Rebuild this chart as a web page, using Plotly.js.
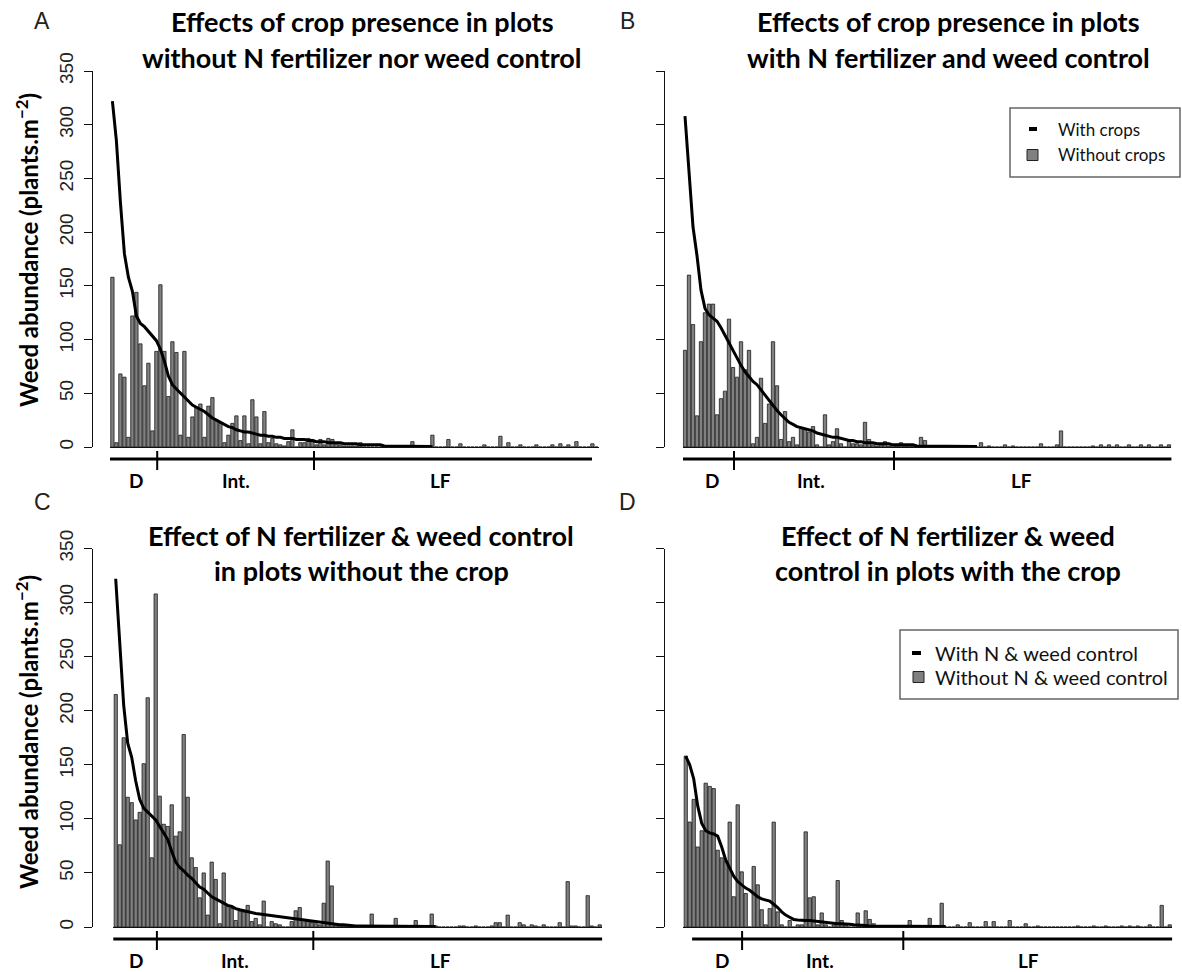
<!DOCTYPE html>
<html><head><meta charset="utf-8">
<script src="https://cdn.plot.ly/plotly-3.0.1.min.js"></script>
<style>html,body{margin:0;padding:0;background:#fff}#chart{width:1182px;height:972px}</style>
</head><body><div id="chart"></div>
<script>
// ---- DATA ----
// species ranks (categories), 122 per panel
const nSpecies = 122;
const speciesRank = Array.from({length: nSpecies}, (_, i) => i);
const groupLabels = ['D', 'Int.', 'LF'];
const yTicks = [0, 50, 100, 150, 200, 250, 300, 350];

// Panel A: without N fertilizer nor weed control
const A_withoutCrops = [
158,4,68,65,9,122,144,96,57,78,
15,89,151,89,47,98,88,11,89,9,
28,37,40,9,38,46,25,22,4,11,
22,29,6,29,3,44,28,3,33,4,
8,3,2,1,5,16,0,4,4,8,
7,2,7,2,8,7,3,2,1,1,
1,1,4,0,0,0,0,0,0,0,
0,0,0,0,0,5,0,0,0,0,
11,0,0,0,7,0,0,3,0,0,
0,0,0,2,0,0,0,10,0,4,
0,0,2,0,0,0,2,0,0,0,
2,0,3,0,2,0,5,0,0,0,
3,0];
const A_withCrops = [
322,285,228,180,158,145,122,115,112,108,
104,99,91,80,66,58,54,50,47,43,
39,37,35,33,30,27,25,23,21,19,
18,16,15,14,14,13,12,11,11,10,
10,9,9,8,8,8,7,7,7,6,
6,5,5,5,4,4,4,4,3,3,
3,3,2,2,2,2,2,2,1,1,
1,1,1,1,1,1,1,0.5,0.5,0.5,
0.5];

// Panel B: with N fertilizer and weed control
const B_withoutCrops = [
90,160,114,29,98,125,133,133,30,45,
52,119,74,65,98,72,90,3,9,64,
22,40,98,57,7,33,5,9,2,17,
16,14,19,2,0,30,2,5,17,3,
0,5,3,3,2,23,7,2,1,2,
5,1,2,1,4,1,1,1,0,9,
6,0,0,0,0,0,0,0,0,0,
0,0,0,0,4,0,1,0,0,0,
2,0,1,0,0,0,0,0,0,3,
0,0,0,2,15,0,0,0,0,0,
0,0,1,0,2,0,2,0,2,0,
0,2,0,0,2,0,2,0,0,2,
0,2];
const B_withCrops = [
308,258,205,178,146,129,123,120,117,111,
104,96,89,83,76,70,65,61,58,53,
48,44,38,34,30,26,23,21,19,18,
17,16,15,13,12,11,10,9,9,8,
7,6,6,5,5,4,4,4,3,3,
3,3,2,2,2,2,2,2,1,1,
1,1,1,1,1,1,1,1,0.5,0.5,
0.5,0.5,0.5,0.5];

// Panel C: plots without the crop
const C_withoutNWeed = [
215,76,175,120,115,99,106,151,212,64,
308,121,95,93,113,84,88,178,120,64,
55,27,50,11,60,44,3,50,19,17,
6,15,14,20,5,8,2,24,0,5,
3,2,0,0,5,15,18,7,5,4,
3,2,22,61,38,2,1,1,1,1,
0,0,0,0,12,0,0,0,0,0,
8,0,0,0,0,6,0,0,0,12,
1,0,0,0,0,0,1,1,0,0,
1,0,0,0,1,4,4,0,11,0,
0,4,2,0,2,1,0,2,0,0,
0,4,0,42,1,1,0,0,29,1,
0,2];
const C_withNWeed = [
322,262,205,170,157,135,118,110,106,102,
99,93,87,81,70,60,55,52,48,45,
41,37,35,31,28,26,24,22,20,19,
17,16,15,14,13,12.5,12,11.5,11,10.5,
10,9.5,9,8.5,8,7.5,7,6,5.5,5,
4.5,4,4,3.5,3,2.5,2,2,1.5,1.5,
1,1,1,1,0.5,0.5,0.5,0.5,0.5,0.5,
0.5,0.5,0.5,0.5,0.5,0.5,0.5,0.5,0.5,0.5,
0.5];

// Panel D: plots with the crop
const D_withoutNWeed = [
158,97,118,74,89,133,130,128,71,64,
61,97,28,113,51,31,0,56,39,16,
2,17,97,14,2,0,6,0,2,2,
88,27,28,2,13,2,0,2,43,6,
2,0,0,13,2,15,7,3,1,1,
1,1,1,0,0,0,6,0,0,0,
0,8,0,0,22,0,0,0,2,0,
0,4,0,0,0,5,0,5,0,0,
0,6,0,0,0,3,0,0,1,0,
0,0,0,0,0,0,0,0,1,0,
0,0,1,0,0,1,0,0,0,1,
0,1,0,1,0,0,2,0,0,20,
0,2];
const D_withNWeed = [
158,150,137,112,96,89,87,86,84,74,
62,54,47,42,39,36,34,31,28,26,
25,24,21,18,14,11,9,7,6.5,6,
6,6,5.5,5,4.5,4,4,3.5,3,3,
3,2.5,2,2,1.5,1.5,1,1,1,1,
1,1,1,1,1,0.5,0.5,0.5,0.5,0.5,
0.5,0.5,0.5,0.5,0.5,0.5];

// ---- LAYOUT HELPERS ----
const W = 1182, H = 972;
const px = v => v / W;
const py = v => 1 - v / H;
const FONT = 'Lato, "Open Sans", sans-serif';
const NUMFONT = '"Liberation Sans", Arial, sans-serif';

const panels = [
  {letter:'A', xa:'x', ya:'y', bars:A_withoutCrops, line:A_withCrops,
   xdom:[110.0, 598.8], ytop:71, ybase:447, axisX:92, showNums:true,
   letterPos:[42,21], title:['Effects of crop presence in plots','without N fertilizer nor weed control'], titleX:362, titleY:[22,57],
   groupLine:[-1.1,119.9], breaks:[11.2,50.4], labelAt:[5.9,30.9,82.1], lineY:459, labelY:480},
  {letter:'B', xa:'x2', ya:'y2', bars:B_withoutCrops, line:B_withCrops,
   xdom:[682.6, 1171.4], ytop:71, ybase:447, axisX:664, showNums:false,
   letterPos:[627,21], title:['Effects of crop presence in plots','with N fertilizer and weed control'], titleX:948, titleY:[22,57],
   groupLine:[-0.5,123], breaks:[12.25,52.25], labelAt:[6.75,31.5,84], lineY:459, labelY:480},
  {letter:'C', xa:'x3', ya:'y3', bars:C_withoutNWeed, line:C_withNWeed,
   xdom:[113.3, 602.1], ytop:548.5, ybase:927, axisX:92, showNums:true,
   letterPos:[42,502], title:['Effect of N fertilizer &amp; weed control','in plots without the crop'], titleX:361, titleY:[535,570],
   groupLine:[-0.7,122.3], breaks:[10.3,49.4], labelAt:[5.1,29.8,81.3], lineY:939, labelY:960},
  {letter:'D', xa:'x4', ya:'y4', bars:D_withoutNWeed, line:D_withNWeed,
   xdom:[683.3, 1172.1], ytop:548.5, ybase:927, axisX:664, showNums:false,
   letterPos:[627,502], title:['Effect of N fertilizer &amp; weed','control in plots with the crop'], titleX:948, titleY:[535,570],
   groupLine:[1.6,122.8], breaks:[14.1,54.4], labelAt:[9.1,33.6,85.8], lineY:939, labelY:960}
];

const data = [], shapes = [], annotations = [];
const layout = {
  width: W, height: H, margin:{l:0,r:0,t:0,b:0},
  paper_bgcolor:'#fff', plot_bgcolor:'rgba(0,0,0,0)',
  showlegend:false, bargap:0.17, hovermode:false
};

panels.forEach((p, i) => {
  const n = i === 0 ? '' : String(i + 1);
  data.push({
    type:'bar', x:speciesRank, y:p.bars, xaxis:p.xa, yaxis:p.ya,
    marker:{color:'#808080', line:{color:'#1c1c1c', width:0.8}},
    hoverinfo:'skip'
  });
  data.push({
    type:'scatter', mode:'lines', x:speciesRank.slice(0, p.line.length), y:p.line,
    xaxis:p.xa, yaxis:p.ya, line:{color:'#000', width:3}, hoverinfo:'skip'
  });
  layout['xaxis' + n] = {
    domain:[px(p.xdom[0]), px(p.xdom[1])], range:[-0.6, 121.6], anchor:p.ya,
    showline:true, linecolor:'#111', linewidth:1, ticks:'', showticklabels:false,
    showgrid:false, zeroline:false, fixedrange:true
  };
  layout['yaxis' + n] = {
    domain:[py(p.ybase), py(p.ytop)], range:[0, 350], anchor:'free', position:px(p.axisX),
    showline:true, linecolor:'#111', linewidth:1, ticks:'outside', ticklen:8, tickwidth:1, tickcolor:'#111',
    tickvals:yTicks, ticktext:yTicks.map(String), tickangle:-90, showticklabels:p.showNums,
    tickfont:{family:NUMFONT, size:19, color:'#222'}, ticklabelstandoff:3,
    showgrid:false, zeroline:false, fixedrange:true
  };
  // panel letter
  annotations.push({text:p.letter, x:px(p.letterPos[0]), y:py(p.letterPos[1]), xref:'paper', yref:'paper',
    showarrow:false, xanchor:'center', yanchor:'middle', font:{family:NUMFONT, size:23, color:'#222'}});
  // title lines
  p.title.forEach((t, j) => annotations.push({text:t, x:px(p.titleX), y:py(p.titleY[j]), xref:'paper', yref:'paper',
    showarrow:false, xanchor:'center', yanchor:'middle', font:{family:FONT, size:27, color:'#000', weight:'bold'}}));
  // group axis line + break ticks
  shapes.push({type:'line', xref:p.xa, yref:'paper', x0:p.groupLine[0], x1:p.groupLine[1],
    y0:py(p.lineY), y1:py(p.lineY), line:{color:'#000', width:3}});
  p.breaks.forEach(b => shapes.push({type:'line', xref:p.xa, yref:'paper', x0:b, x1:b,
    y0:py(p.lineY - 8), y1:py(p.lineY + 11), line:{color:'#000', width:2}}));
  groupLabels.forEach((g, j) => annotations.push({text:g, x:p.labelAt[j], y:py(p.labelY), xref:p.xa, yref:'paper',
    showarrow:false, xanchor:'center', yanchor:'middle', font:{family:FONT, size:19, color:'#000', weight:'bold'}}));
});

// y-axis titles (left panels)
[250, 732].forEach(yc => annotations.push({text:'Weed abundance (plants.m<sup>−2</sup>)', textangle:-90,
  x:px(27), y:py(yc), xref:'paper', yref:'paper', showarrow:false, xanchor:'center', yanchor:'middle',
  font:{family:FONT, size:24, color:'#000', weight:'bold'}}));

// legends (panel B and D)
const legends = [
  {box:[1010,108,1180,177], items:['With crops','Without crops'], dashX:[1029,1037], sqX:[1027,1038], textX:1056, rows:[129,155], size:17},
  {box:[900,630,1178,699], items:['With N &amp; weed control','Without N &amp; weed control'], dashX:[912,921], sqX:[913,924], textX:933, rows:[653,677], size:20}
];
legends.forEach(L => {
  shapes.push({type:'rect', xref:'paper', yref:'paper', x0:px(L.box[0]), x1:px(L.box[2]), y0:py(L.box[1]), y1:py(L.box[3]),
    line:{color:'#666', width:1.5}, fillcolor:'#fff'});
  shapes.push({type:'line', xref:'paper', yref:'paper', x0:px(L.dashX[0]), x1:px(L.dashX[1]), y0:py(L.rows[0]), y1:py(L.rows[0]),
    line:{color:'#000', width:4}});
  shapes.push({type:'rect', xref:'paper', yref:'paper', x0:px(L.sqX[0]), x1:px(L.sqX[1]), y0:py(L.rows[1]-5.5), y1:py(L.rows[1]+5.5),
    line:{color:'#222', width:1}, fillcolor:'#808080'});
  L.items.forEach((t, j) => annotations.push({text:t, x:px(L.textX), y:py(L.rows[j]), xref:'paper', yref:'paper',
    showarrow:false, xanchor:'left', yanchor:'middle', font:{family:FONT, size:L.size, color:'#111'}}));
});

layout.shapes = shapes;
layout.annotations = annotations;
Plotly.newPlot('chart', data, layout, {staticPlot:true, displayModeBar:false});
</script></body></html>
